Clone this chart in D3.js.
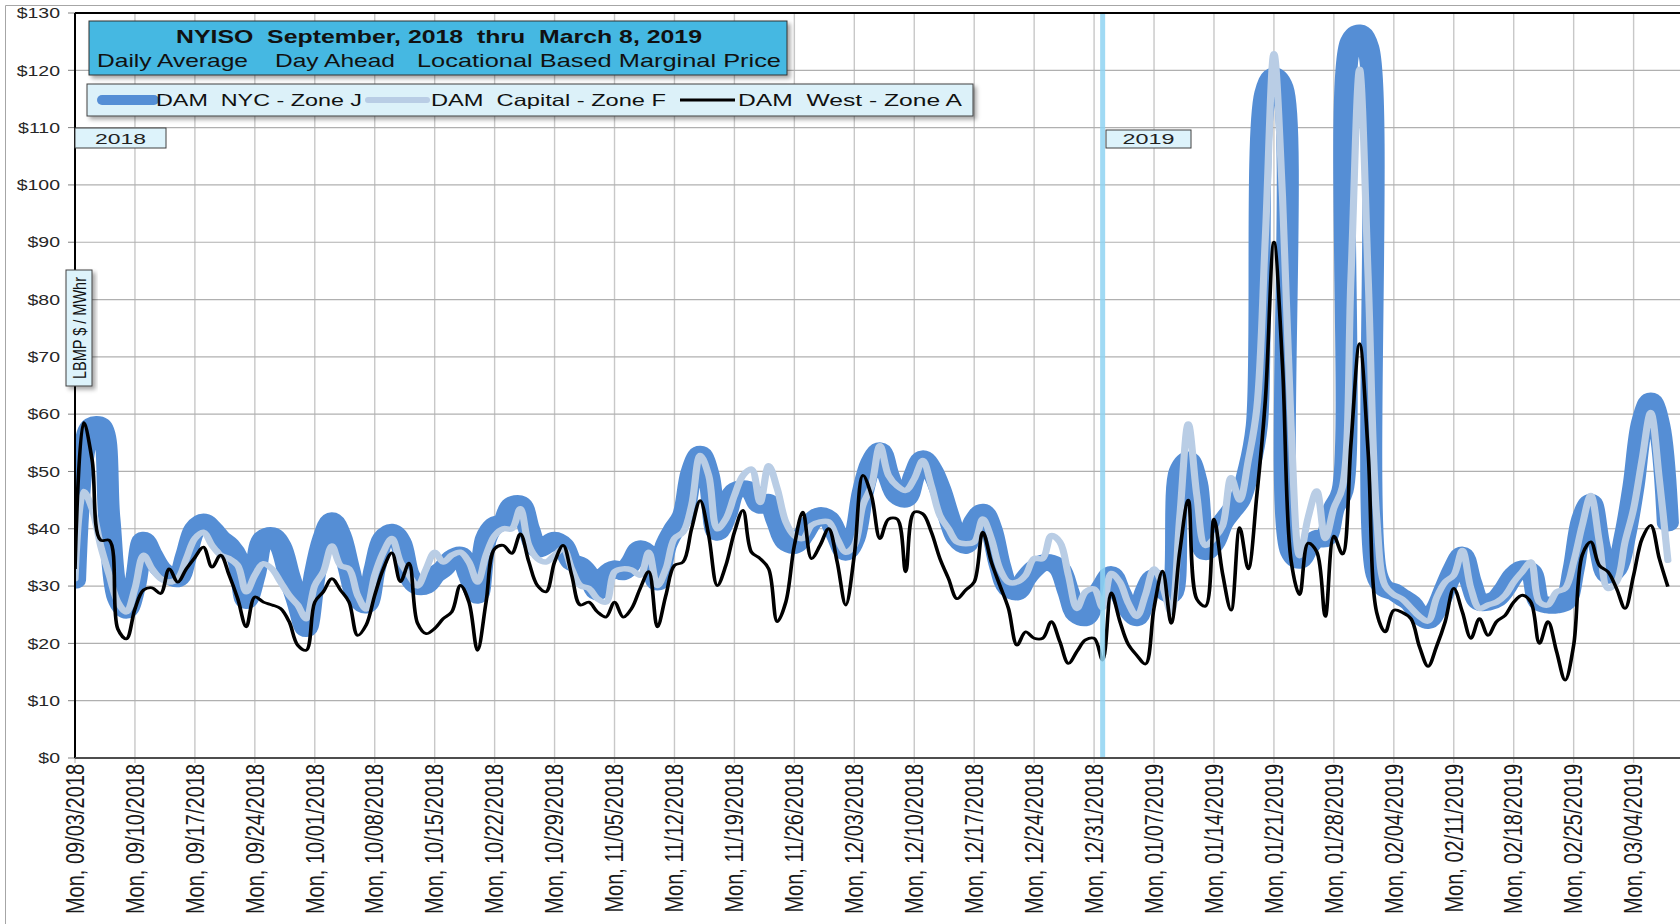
<!DOCTYPE html>
<html>
<head>
<meta charset="utf-8">
<script src="https://cdn.jsdelivr.net/npm/d3@7"></script>
<style>
  body { margin: 0; background: #fff; }
  svg { display: block; font-family: "Liberation Sans", Arial, sans-serif; }
  text.pre { white-space: pre; }
</style>
</head>
<body>
<script>
var width = 1680,
  height = 924,
  stretch = 1.3; // the original picture is wider than it was drawn

// Daily average DAM LBMP, $/MWhr, one value per day from Mon 09/03/2018 to Fri 03/08/2019
var nycJ = [
  31, 53, 58, 58, 42, 28, 25.8, 30, 38, 35.4,
  33, 31.9, 31.3, 35.4, 40, 41.2, 40, 38.3, 37.1, 34.8,
  27.5, 32, 38.3, 38.8, 37, 31.9, 27.2, 22.6, 32, 38.3,
  41.4, 38.8, 33, 27.8, 26.7, 33, 38.3, 39.4, 37.7, 31.9,
  30, 30.1, 31.9, 33, 34.8, 35.4, 31.9, 28.4, 38.3, 40.6,
  41.2, 44.1, 44.3, 40, 36.5, 37.1, 38, 37.1, 34.2, 33.6,
  31.9, 29, 32, 33, 32.5, 34.2, 36.5, 35.4, 30.7, 37.1,
  40, 42.3, 49.9, 53, 49.3, 39.4, 42.3, 46.5, 47, 46.5,
  44.1, 44.6, 41.2, 37.7, 37.1, 38.8, 41.2, 42.3, 41.7, 38.8,
  35.9, 38.3, 46.4, 51.6, 53.6, 49.3, 45.8, 45.2, 49.3, 52.2,
  50.4, 47, 42.3, 38.3, 37.1, 41.2, 42.9, 40, 33.6, 29.6,
  29, 31.3, 33, 34, 34, 33, 29, 25, 24.5, 27.5,
  30, 32, 29, 26, 24.5, 29, 31.5, 29.5, 28.5, 50,
  52, 48, 36, 37.5, 41, 43, 45, 50, 58, 116,
  119, 117, 36, 34.5, 36.8, 38.3, 38.3, 43.6, 46.6, 125,
  126.5, 124, 32, 29.5, 29, 28, 27, 25, 24, 26.1,
  29.6, 33, 35.4, 30.7, 27.2, 27.2, 27.8, 29.6, 31.9, 33,
  32.5, 27.2, 26.7, 26.7, 27.2, 33, 41.7, 44.6, 37.1, 31.9,
  33, 38.8, 47.5, 58.6, 62.3, 58, 41
];

var capitalF = [
  31.3, 46.5, 43.5, 37, 31.9, 27.2, 25.5, 29.6, 35.4, 33,
  31.3, 30.7, 31.3, 34.8, 38.3, 39.4, 37.1, 35.4, 34.8, 33.6,
  29, 31.9, 33.9, 33, 30.7, 28.4, 26.7, 24.3, 30.1, 32.5,
  37, 33.6, 33, 28.4, 26, 31.9, 35.9, 38.3, 34.2, 31.9,
  30, 33, 35.9, 34.2, 35.4, 35.9, 34.2, 30.7, 35.4, 38.8,
  40, 40, 43.5, 37.1, 34.8, 34.2, 35.4, 36.5, 33, 30.1,
  29.6, 27.8, 27.2, 32.5, 33, 32.8, 31.9, 35.9, 30.1, 33,
  38.3, 39.4, 44.1, 52.8, 49.3, 40, 41.7, 45.8, 49.3, 50.4,
  44.6, 51, 47, 41.2, 38.8, 38.3, 40.6, 41.2, 41.2, 38.3,
  35.9, 37.1, 44.1, 47.5, 54.5, 49.3, 47.5, 46.7, 48.7, 51.9,
  47.5, 42.3, 40, 37.7, 37.4, 37.7, 41.7, 38.3, 33, 30.7,
  30.7, 31.9, 34.8, 34.8, 38.8, 37.7, 31.9, 26.1, 29, 29.5,
  26.2, 32.2, 30.7, 27, 24.7, 28.5, 33, 30, 25.4, 42,
  58.3, 45.8, 37.1, 38.3, 40.5, 48.9, 45, 51.9, 61, 91,
  122.9, 98, 58, 35.3, 42, 46.6, 38.3, 43.6, 47.3, 84,
  120.2, 84, 42, 30, 28.5, 27.7, 26.2, 24.7, 23.9, 28,
  30.7, 31.9, 36.2, 29.6, 26.1, 26.7, 27.2, 28.4, 30.7, 32.5,
  34.2, 27.2, 26.7, 29, 29.6, 34.2, 40.6, 45.8, 37.7, 29.6,
  30.7, 37.7, 43.5, 52.2, 60.3, 48.7, 34.5
];

var westA = [
  33, 58.5, 52, 38, 38, 22.5, 20.8, 26, 29.3, 29.7,
  28.7, 33, 30.7, 33, 35, 36.8, 33.3, 35.4, 31.9, 27.8,
  22.9, 28.1, 27.2, 26.7, 26.1, 23.8, 19.7, 18.8, 27.2, 29,
  31.3, 29.3, 27.2, 21.4, 23.2, 28.4, 33, 35.8, 30.8, 34,
  23.5, 21.7, 22.6, 24.3, 25.5, 30.1, 27.2, 18.8, 27.2, 36.5,
  37.1, 35.7, 39.1, 34.2, 30.1, 29, 34.2, 37.1, 31.9, 26.7,
  27.2, 25.5, 24.6, 27.2, 24.6, 26.1, 29.6, 32.5, 22.9, 28.4,
  33.6, 34.2, 40, 44.9, 38.8, 30.1, 33.6, 39.4, 43.2, 35.9,
  34.8, 33, 23.8, 27.2, 37.1, 42.9, 34.8, 37.1, 40, 34.2,
  26.7, 35.4, 49.3, 45.8, 38.3, 41.7, 41.7, 32.5, 42.9, 42.6,
  39.4, 34.8, 31.3, 27.8, 29.3, 30.7, 39.4, 34.2, 30.1, 26.1,
  19.7, 22, 20.9, 20.9, 23.8, 20.3, 16.5, 18.6, 20.6, 20.9,
  17.1, 28.8, 23.9, 19.8, 17.9, 16.4, 26.2, 32.6, 23.5, 36,
  45, 27.7, 26.5, 41.7, 32.2, 25.8, 40.2, 33, 45.8, 62.5,
  90, 68.5, 34.5, 28.5, 37.5, 36, 24.7, 38.7, 35.6, 55,
  72.3, 53.4, 25.4, 22, 25.8, 25.4, 24.3, 19.4, 16, 19.5,
  23.8, 29.6, 25.5, 20.9, 24.3, 21.4, 23.8, 24.9, 27.2, 28.4,
  27.2, 20, 23.8, 18.6, 13.6, 19.7, 35.4, 37.7, 33.6, 32.5,
  29.6, 26.1, 31.9, 38.3, 40.6, 34.8, 29.9
];

var firstDay = new Date(2018, 8, 3),
  lastDay = new Date(2019, 2, 8),
  yearMark = new Date(2019, 0, 1);
var dates = d3.timeDays(firstDay, d3.timeDay.offset(lastDay, 1));

var yTicks = d3.range(0, 131, 10);
var seriesNames = ["DAM  NYC - Zone J", "DAM  Capital - Zone F", "DAM  West - Zone A"];
var titleText = "NYISO  September, 2018  thru  March 8, 2019";
var subtitleParts = ["Daily Average", "Day Ahead", "Locational Based Marginal Price"];

var plot = { left: 75, right: 1680, top: 13, bottom: 758 };
var xEnd = d3.timeHour.offset(new Date(2019, 2, 9), 10);

var x = d3.scaleTime()
  .domain([firstDay, xEnd])
  .range([plot.left, plot.right]);

// the lines are drawn in an unstretched group, then widened like the picture
var xs = d3.scaleTime()
  .domain([firstDay, xEnd])
  .range([0, (plot.right - plot.left) / stretch]);

var y = d3.scaleLinear()
  .domain([0, 130])
  .range([plot.bottom, plot.top]);

var svg = d3.select("body").append("svg")
  .attr("width", width)
  .attr("height", height);

var defs = svg.append("defs");
defs.append("clipPath").attr("id", "plotclip")
  .append("rect")
  .attr("x", plot.left)
  .attr("y", plot.top)
  .attr("width", plot.right - plot.left)
  .attr("height", plot.bottom - plot.top);

var shadow = defs.append("filter").attr("id", "shadow")
  .attr("x", "-10%").attr("y", "-30%").attr("width", "130%").attr("height", "170%");
shadow.append("feDropShadow")
  .attr("dx", 3).attr("dy", 3).attr("stdDeviation", 2)
  .attr("flood-color", "#000").attr("flood-opacity", 0.35);

// chart area border
svg.append("path")
  .attr("d", "M5.5,924V5.5H1680")
  .attr("fill", "none")
  .attr("stroke", "#a6a6a6");

// gridlines
var mondays = d3.timeMonday.range(firstDay, xEnd);

svg.append("g")
  .selectAll("line")
  .data(mondays)
  .enter().append("line")
  .attr("x1", function (d) { return x(d); })
  .attr("x2", function (d) { return x(d); })
  .attr("y1", plot.top)
  .attr("y2", plot.bottom + 5)
  .attr("stroke", "#c8c8c8")
  .attr("stroke-width", 1.4);

svg.append("g")
  .selectAll("line")
  .data(yTicks.slice(1, -1))
  .enter().append("line")
  .attr("x1", plot.left)
  .attr("x2", plot.right)
  .attr("y1", function (d) { return y(d); })
  .attr("y2", function (d) { return y(d); })
  .attr("stroke", "#b0b0b0")
  .attr("stroke-width", 1.2);

// y axis ticks and labels
svg.append("g")
  .selectAll("line")
  .data(yTicks)
  .enter().append("line")
  .attr("x1", plot.left - 7)
  .attr("x2", plot.left)
  .attr("y1", function (d) { return y(d); })
  .attr("y2", function (d) { return y(d); })
  .attr("stroke", "#808080");

svg.append("g")
  .selectAll("text")
  .data(yTicks)
  .enter().append("text")
  .attr("transform", function (d) { return "translate(60," + y(d) + ")scale(" + stretch + ",1)"; })
  .attr("text-anchor", "end")
  .attr("dy", "0.35em")
  .attr("font-size", 15)
  .attr("fill", "#262626")
  .text(function (d) { return "$" + d; });

// x labels
var fmt = d3.timeFormat("%a, %m/%d/%Y");
svg.append("g")
  .selectAll("text")
  .data(mondays)
  .enter().append("text")
  .attr("transform", function (d) { return "translate(" + x(d) + ",764)scale(1.25,1)rotate(-90)"; })
  .attr("text-anchor", "end")
  .attr("dy", "0.35em")
  .attr("font-size", 20)
  .attr("fill", "#1a1a1a")
  .text(fmt);

// series
var chart = svg.append("g").attr("clip-path", "url(#plotclip)");
var g = chart.append("g")
  .attr("transform", "translate(" + plot.left + ",0)scale(" + stretch + ",1)");

function line(values) {
  return d3.line()
    .x(function (d, i) { return xs(dates[i]); })
    .y(function (d) { return y(d); })
    .curve(d3.curveCatmullRom.alpha(0.5))(values);
}

g.append("path")
  .attr("d", line(nycJ))
  .attr("fill", "none")
  .attr("stroke", "#558ed5")
  .attr("stroke-width", 17)
  .attr("stroke-linejoin", "round")
  .attr("stroke-linecap", "round");

chart.append("line")
  .attr("x1", x(yearMark))
  .attr("x2", x(yearMark))
  .attr("y1", plot.top)
  .attr("y2", plot.bottom)
  .attr("stroke", "#8fd4f2")
  .attr("stroke-opacity", 0.85)
  .attr("stroke-width", 5);

g.append("path")
  .attr("d", line(capitalF))
  .attr("fill", "none")
  .attr("stroke", "#b9cde5")
  .attr("stroke-width", 5.5)
  .attr("stroke-linejoin", "round")
  .attr("stroke-linecap", "round");

g.append("path")
  .attr("d", line(westA))
  .attr("fill", "none")
  .attr("stroke", "#000")
  .attr("stroke-width", 2.8)
  .attr("stroke-linejoin", "round");

// plot borders
svg.append("line")
  .attr("x1", plot.left).attr("x2", plot.right)
  .attr("y1", plot.top).attr("y2", plot.top)
  .attr("stroke", "#000").attr("stroke-width", 2);
svg.append("line")
  .attr("x1", plot.left).attr("x2", plot.left)
  .attr("y1", plot.top).attr("y2", plot.bottom)
  .attr("stroke", "#000").attr("stroke-width", 2);
svg.append("line")
  .attr("x1", plot.left).attr("x2", plot.right)
  .attr("y1", plot.bottom).attr("y2", plot.bottom)
  .attr("stroke", "#4d4d4d").attr("stroke-width", 2);

// title box
svg.append("rect")
  .attr("x", 89).attr("y", 21).attr("width", 698).attr("height", 54)
  .attr("fill", "#45b8e2").attr("stroke", "#303030")
  .attr("filter", "url(#shadow)");

svg.append("text")
  .attr("class", "pre")
  .attr("x", 176).attr("y", 43)
  .attr("font-size", 18.5).attr("font-weight", "bold")
  .attr("textLength", 526).attr("lengthAdjust", "spacingAndGlyphs")
  .attr("fill", "#111")
  .text(titleText);

var subX = [97, 275, 417],
  subW = [151, 120, 364];
svg.append("g")
  .selectAll("text")
  .data(subtitleParts)
  .enter().append("text")
  .attr("x", function (d, i) { return subX[i]; })
  .attr("y", 67)
  .attr("font-size", 18.5)
  .attr("textLength", function (d, i) { return subW[i]; })
  .attr("lengthAdjust", "spacingAndGlyphs")
  .attr("fill", "#111")
  .text(function (d) { return d; });

// legend
svg.append("rect")
  .attr("x", 87).attr("y", 84).attr("width", 886).attr("height", 32)
  .attr("fill", "#dcf1f9").attr("stroke", "#404040")
  .attr("filter", "url(#shadow)");

var legendStyle = [
  { color: "#558ed5", w: 10, x1: 102, x2: 154, tx: 156, tw: 206 },
  { color: "#b9cde5", w: 6, x1: 368, x2: 427, tx: 431, tw: 235 },
  { color: "#000", w: 2.8, x1: 680, x2: 735, tx: 738, tw: 224 }
];
var legend = svg.append("g")
  .selectAll("g")
  .data(seriesNames)
  .enter().append("g");
legend.append("line")
  .attr("x1", function (d, i) { return legendStyle[i].x1; })
  .attr("x2", function (d, i) { return legendStyle[i].x2; })
  .attr("y1", 100).attr("y2", 100)
  .attr("stroke", function (d, i) { return legendStyle[i].color; })
  .attr("stroke-width", function (d, i) { return legendStyle[i].w; })
  .attr("stroke-linecap", function (d, i) { return i < 2 ? "round" : "butt"; });
legend.append("text")
  .attr("class", "pre")
  .attr("x", function (d, i) { return legendStyle[i].tx; })
  .attr("y", 106)
  .attr("font-size", 16.5)
  .attr("textLength", function (d, i) { return legendStyle[i].tw; })
  .attr("lengthAdjust", "spacingAndGlyphs")
  .attr("fill", "#111")
  .text(function (d) { return d; });

// year boxes
var years = [
  { label: "2018", x: 75, y: 128, w: 91, h: 20, tw: 51 },
  { label: "2019", x: 1106, y: 130, w: 85, h: 18, tw: 52 }
];
var yr = svg.append("g").selectAll("g").data(years).enter().append("g");
yr.append("rect")
  .attr("x", function (d) { return d.x; })
  .attr("y", function (d) { return d.y; })
  .attr("width", function (d) { return d.w; })
  .attr("height", function (d) { return d.h; })
  .attr("fill", "#ddf3fb").attr("stroke", "#404040");
yr.append("text")
  .attr("x", function (d) { return d.x + (d.w - d.tw) / 2; })
  .attr("y", function (d) { return d.y + d.h - 4; })
  .attr("font-size", 15)
  .attr("textLength", function (d) { return d.tw; })
  .attr("lengthAdjust", "spacingAndGlyphs")
  .attr("fill", "#222")
  .text(function (d) { return d.label; });

// y axis title
svg.append("rect")
  .attr("x", 66).attr("y", 270).attr("width", 26).attr("height", 116)
  .attr("fill", "#ddf3fb").attr("stroke", "#404040")
  .attr("filter", "url(#shadow)");
svg.append("text")
  .attr("transform", "translate(79,328)scale(" + stretch + ",1)rotate(-90)")
  .attr("text-anchor", "middle")
  .attr("dy", "0.35em")
  .attr("font-size", 14.5)
  .attr("fill", "#111")
  .text("LBMP $ / MWhr");
</script>
</body>
</html>
